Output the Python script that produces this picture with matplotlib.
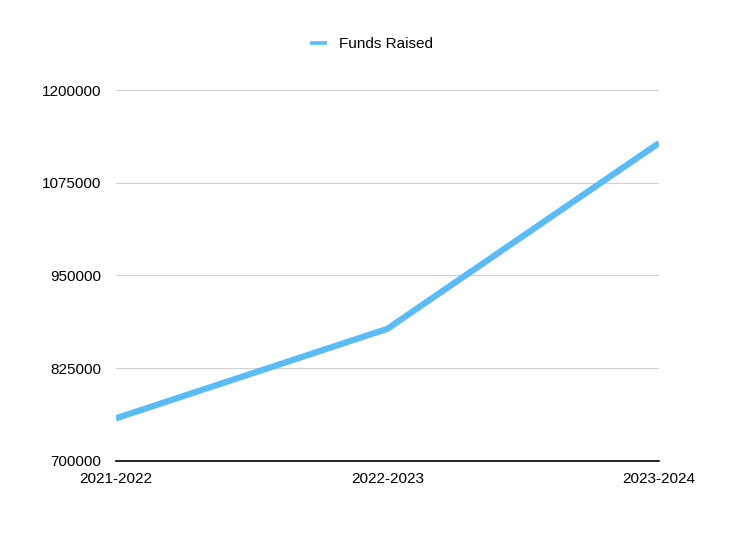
import matplotlib
matplotlib.use("Agg")
import matplotlib.pyplot as plt

categories = ["2021-2022", "2022-2023", "2023-2024"]
funds_raised = [757000, 878000, 1129000]
yticks = [700000, 825000, 950000, 1075000, 1200000]

plt.rcParams['font.family'] = ['Liberation Sans', 'DejaVu Sans']

fig = plt.figure(figsize=(7.29, 5.5), dpi=100)
ax = fig.add_axes([0.159, 0.1627, 0.745, 0.6728])

x = list(range(len(categories)))
ax.plot(x, funds_raised, color="#5BBBF5", linewidth=4.5, solid_capstyle="butt",
        label="Funds Raised")
ax.set_xlim(0, len(categories) - 1)
ax.set_ylim(700000, 1200000)
ax.set_yticks(yticks)
ax.set_yticklabels([str(v) for v in yticks], fontsize=11)
ax.set_xticks(x)
ax.set_xticklabels(categories, fontsize=11)
ax.tick_params(axis='y', length=0, pad=10.5)
ax.tick_params(axis='x', length=0, pad=8)
ax.grid(axis='y', color="#D0D0D0", linewidth=0.8)
ax.set_axisbelow(True)
for s in ["top", "right", "left"]:
    ax.spines[s].set_visible(False)
ax.spines["bottom"].set_color("black")
ax.spines["bottom"].set_linewidth(1.2)

leg = ax.legend(loc="center", bbox_to_anchor=(0.51, (550 - 44) / 550),
                bbox_transform=fig.transFigure, frameon=False,
                fontsize=11, handlelength=1.1, handletextpad=0.8)
for h in leg.get_lines():
    h.set_linewidth(2.6)

fig.savefig("out.png", dpi=100)
